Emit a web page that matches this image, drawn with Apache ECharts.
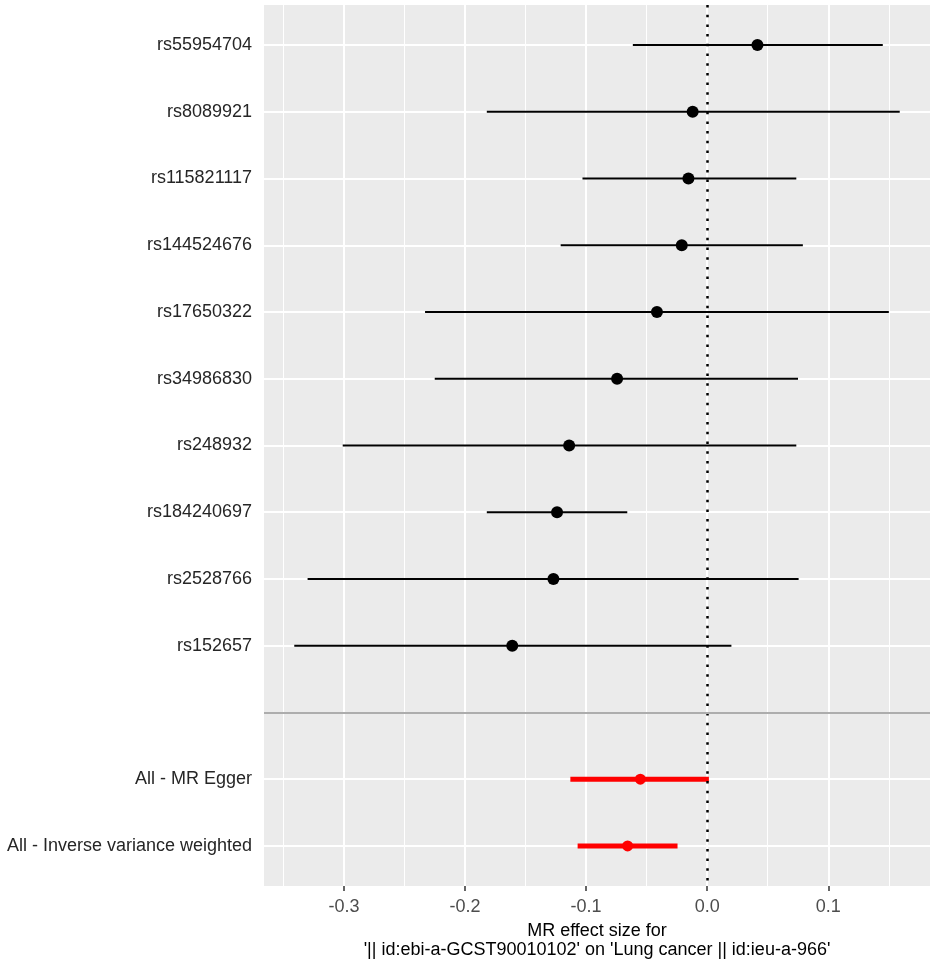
<!DOCTYPE html>
<html>
<head>
<meta charset="utf-8">
<title>MR forest plot</title>
<script src="https://cdn.jsdelivr.net/npm/echarts@6/dist/echarts.min.js"></script>
<style>
  html, body { margin: 0; padding: 0; background: #fff; }
  #chart { width: 935px; height: 960px; }
</style>
</head>
<body>
<div id="chart"></div>
<script>
// single SNP estimates, top to bottom
var snpLabels = ['rs55954704', 'rs8089921', 'rs115821117', 'rs144524676', 'rs17650322',
                 'rs34986830', 'rs248932', 'rs184240697', 'rs2528766', 'rs152657'];
var snpBeta  = [0.0415, -0.012, -0.0155, -0.021, -0.0415, -0.0744, -0.114, -0.124, -0.127, -0.161];
var snpLower = [-0.0614, -0.182, -0.103, -0.121, -0.233, -0.225, -0.301, -0.182, -0.330, -0.341];
var snpUpper = [0.145, 0.159, 0.0736, 0.079, 0.150, 0.075, 0.0736, -0.066, 0.0755, 0.020];

// combined estimates
var methodLabels = ['All - MR Egger', 'All - Inverse variance weighted'];
var methodBeta  = [-0.0552, -0.0657];
var methodLower = [-0.113, -0.107];
var methodUpper = [0.0014, -0.0245];

var xTicks = [-0.3, -0.2, -0.1, 0, 0.1];
var xMinor = [-0.35, -0.25, -0.15, -0.05, 0.05, 0.15];

// rows: snps, one blank spacer, then methods
var rowLabels = snpLabels.concat(['']).concat(methodLabels);
var rowPos = rowLabels.map(function (d, i) { return i + 1; });
var blankRow = snpLabels.length + 1;

var snpBars = [], snpPts = [];
snpLabels.forEach(function (s, i) {
    snpBars.push([snpLower[i], snpUpper[i], i + 1]);
    snpPts.push([snpBeta[i], i + 1]);
});
var methodBars = [], methodPts = [];
methodLabels.forEach(function (s, i) {
    var y = blankRow + 1 + i;
    methodBars.push([methodLower[i], methodUpper[i], y]);
    methodPts.push([methodBeta[i], y]);
});

function barRenderer(color, width) {
    return function (params, api) {
        var a = api.coord([api.value(0), api.value(2)]);
        var b = api.coord([api.value(1), api.value(2)]);
        return {
            type: 'line',
            shape: { x1: a[0], y1: a[1], x2: b[0], y2: b[1] },
            style: { stroke: color, lineWidth: width }
        };
    };
}

var font = 'Arial, "Liberation Sans", sans-serif';
var myChart = echarts.init(document.getElementById('chart'));

var option = {
    animation: false,
    backgroundColor: '#fff',
    grid: {
        left: 264, right: 5, top: 5, bottom: 74,
        outerBoundsMode: 'none',
        containLabel: false,
        show: true, backgroundColor: '#EBEBEB', borderWidth: 0
    },
    xAxis: [{
        type: 'value',
        min: -0.366, max: 0.184,
        name: 'MR effect size for\n\'|| id:ebi-a-GCST90010102\' on \'Lung cancer || id:ieu-a-966\'',
        nameLocation: 'middle',
        nameGap: 36,
        nameTextStyle: { color: '#000', fontSize: 18, fontFamily: font, lineHeight: 19 },
        axisLine: { show: false },
        axisTick: { show: true, length: 5, customValues: xTicks, lineStyle: { color: '#333', width: 1.5 } },
        axisLabel: {
            customValues: xTicks, margin: 12,
            color: '#4D4D4D', fontSize: 18, fontFamily: font,
            formatter: function (v) { return v.toFixed(1); }
        },
        splitLine: { show: true, lineStyle: { color: '#fff', width: 2 } }
    }, {
        // minor grid lines only
        type: 'value',
        min: -0.366, max: 0.184,
        position: 'bottom',
        axisLine: { show: false },
        axisTick: { show: false, customValues: xMinor },
        axisLabel: { show: false, customValues: xMinor },
        splitLine: { show: true, lineStyle: { color: '#fff', width: 1 } }
    }],
    yAxis: {
        type: 'value',
        inverse: true,
        min: 0.4, max: rowLabels.length + 0.6,
        axisLine: { show: false },
        axisTick: { show: false, customValues: rowPos },
        axisLabel: {
            customValues: rowPos, margin: 12,
            color: '#262626', fontSize: 18, fontFamily: font,
            formatter: function (v) { return rowLabels[Math.round(v) - 1]; }
        },
        splitLine: { show: true, lineStyle: { color: '#fff', width: 2 } }
    },
    series: [{
        type: 'custom',
        renderItem: barRenderer('#000', 2),
        encode: { x: [0, 1], y: 2 },
        data: snpBars,
        markLine: {
            silent: true,
            symbol: ['none', 'none'],
            label: { show: false },
            lineStyle: { color: '#000', type: [2.5, 7.2], width: 2.5 },
            data: [{ xAxis: 0 }]
        }
    }, {
        type: 'scatter',
        symbol: 'circle',
        symbolSize: 12,
        itemStyle: { color: '#000', opacity: 1 },
        data: snpPts
    }, {
        type: 'custom',
        renderItem: barRenderer('#FF0000', 5),
        encode: { x: [0, 1], y: 2 },
        data: methodBars
    }, {
        type: 'scatter',
        symbol: 'circle',
        symbolSize: 11,
        itemStyle: { color: '#FF0000', opacity: 1 },
        data: methodPts,
        markLine: {
            silent: true,
            symbol: ['none', 'none'],
            label: { show: false },
            lineStyle: { color: '#ADADAD', type: 'solid', width: 2 },
            data: [{ yAxis: blankRow }]
        }
    }]
};

myChart.setOption(option);
</script>
</body>
</html>
